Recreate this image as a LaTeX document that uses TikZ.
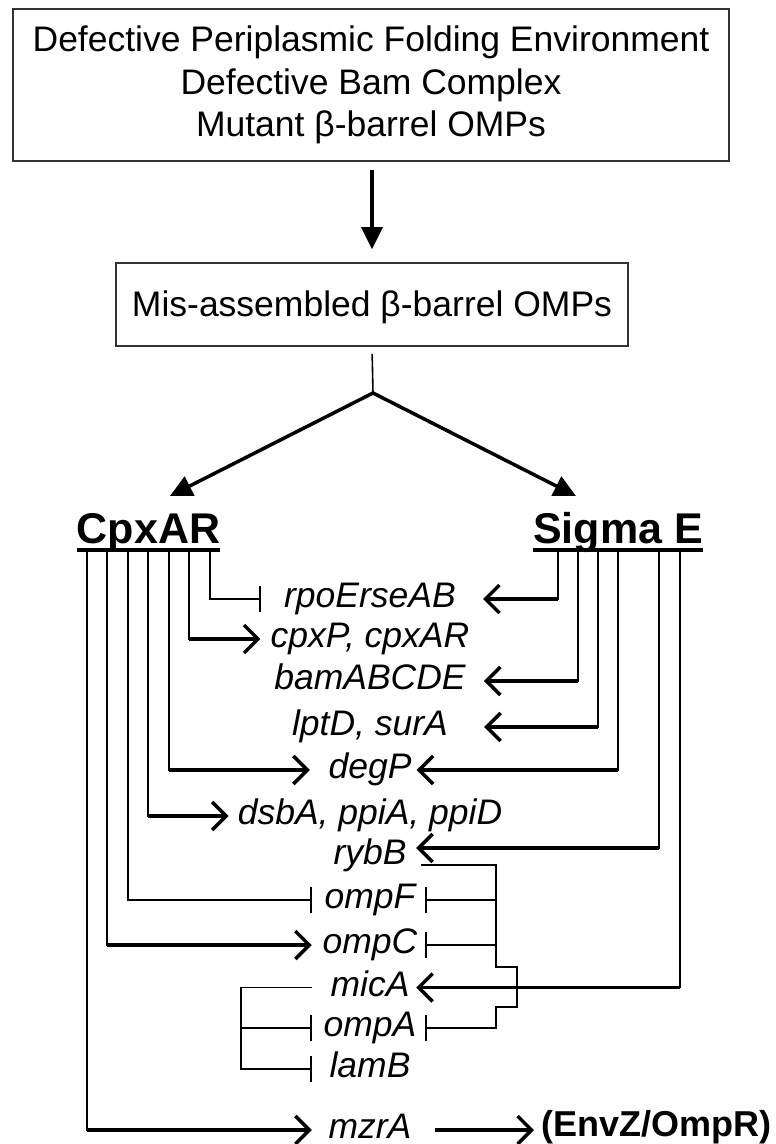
\documentclass[tikz,border=0pt]{standalone}
\usepackage{fontspec}
\setmainfont{Liberation Sans}
\usetikzlibrary{arrows.meta}
\begin{document}
\begin{tikzpicture}[x=1pt,y=-1pt,
  box/.style={draw=black!80, line width=1.6pt, inner sep=0pt, align=center, font=\fontsize{35.5}{42.5}\selectfont},
  hub/.style={font=\fontsize{43}{48}\selectfont\bfseries, inner sep=0pt, anchor=base},
  gene/.style={font=\fontsize{35.5}{40}\selectfont\itshape, inner sep=0pt, anchor=base, text height=25.5pt, text depth=8.5pt},
  stem/.style={line width=1.6pt, line cap=rect},
  act/.style={line width=3.5pt, -{Straight Barb[length=14pt,width=28pt]}},
  inh/.style={line width=1.6pt, -{Bar[width=26pt]}},
  big/.style={line width=3.5pt, -{Triangle[length=22pt,width=21pt]}},
  thinline/.style={line width=1.6pt}
]
\useasboundingbox (0,0) rectangle (776,1144);

% boxes
\node[box, minimum width=716pt, minimum height=152pt] (top) at (371,85)
  {Defective Periplasmic Folding Environment\\Defective Bam Complex\\Mutant β-barrel OMPs};
\node[box, minimum width=512pt, minimum height=83pt, text height=26pt, text depth=3pt] (mis) at (372,304.5)
  {Mis-assembled β-barrel OMPs};
\draw[big, shorten <=8pt, shorten >=13pt] (top.south -| mis.north) -- (mis.north);

% fork
\coordinate (fork) at (373,393);
\coordinate (tipL) at (170,496);
\coordinate (tipR) at (576,496);
\draw[thinline, shorten <=7pt] (mis.south) -- (fork);
\draw[big] (fork) -- (tipL);
\draw[big] (fork) -- (tipR);

% regulators
\node[hub] (cpx) at (148.5,543) {CpxAR};
\node[hub] (sig) at (618,543) {Sigma E};
\draw[line width=4pt] ([yshift=-7pt]cpx.base west) -- ([yshift=-7pt]cpx.base east);
\draw[line width=4pt] ([yshift=-7pt]sig.base west) -- ([yshift=-7pt]sig.base east);

% stems
\coordinate (c1) at (87,552);
\coordinate (c2) at (107,552);
\coordinate (c3) at (128,552);
\coordinate (c4) at (148,552);
\coordinate (c5) at (169,552);
\coordinate (c6) at (189,552);
\coordinate (c7) at (210,552);
\coordinate (s1) at (558,552);
\coordinate (s2) at (578,552);
\coordinate (s3) at (598,552);
\coordinate (s4) at (618,552);
\coordinate (s5) at (659,552);
\coordinate (s6) at (680,552);

% genes
\node[gene] (rpo) at (370,607.5) {rpoErseAB};
\node[gene] (cpxp) at (370,647.5) {cpxP, cpxAR};
\node[gene] (bam) at (370,689.5) {bamABCDE};
\node[gene] (lpt) at (370,735.5) {lptD, surA};
\node[gene] (deg) at (370,778.5) {degP};
\node[gene] (dsb) at (370,824.5) {dsbA, ppiA, ppiD};
\node[gene] (ryb) at (370,864) {rybB};
\node[gene] (ompf) at (370,908.5) {ompF};
\node[gene] (ompc) at (370,953.5) {ompC};
\node[gene] (mica) at (370,996) {micA};
\node[gene] (ompa) at (370,1036.5) {ompA};
\node[gene] (lamb) at (370,1077.5) {lamB};
\node[gene] (mzra) at (370,1138.5) {mzrA};
\node[font=\fontsize{36}{40}\selectfont\bfseries, inner sep=0pt, anchor=base west] (envz) at (541,1136) {(EnvZ/OmpR)};

% CpxAR connectors
\draw[inh] (c7) |- ([xshift=-23pt]rpo.west);
\draw[stem] (c6) -- (c6 |- cpxp.west);
\draw[act] (c6 |- cpxp.west) -- ([xshift=-10pt]cpxp.west);
\draw[stem] (c5) -- (c5 |- deg.west);
\draw[act] (c5 |- deg.west) -- ([xshift=-18.5pt]deg.west);
\draw[stem] (c4) -- (c4 |- dsb.west);
\draw[act] (c4 |- dsb.west) -- ([xshift=-9pt]dsb.west);
\draw[inh] (c3) |- ([xshift=-12.6pt]ompf.west);
\draw[stem] (c2) -- (c2 |- ompc.west);
\draw[act] (c2 |- ompc.west) -- ([xshift=-10.7pt]ompc.west);
\draw[stem] (c1) -- (c1 |- mzra.west);
\draw[act] (c1 |- mzra.west) -- ([xshift=-16.6pt]mzra.west);

% Sigma E connectors
\draw[stem] (s1) -- (s1 |- rpo.east);
\draw[act] (s1 |- rpo.east) -- ([xshift=27pt]rpo.east);
\draw[stem] (s2) -- (s2 |- bam.east);
\draw[act] (s2 |- bam.east) -- ([xshift=18pt]bam.east);
\draw[stem] (s3) -- (s3 |- lpt.east);
\draw[act] (s3 |- lpt.east) -- ([xshift=36pt]lpt.east);
\draw[stem] (s4) -- (s4 |- deg.east);
\draw[act] (s4 |- deg.east) -- ([xshift=5pt]deg.east);
\coordinate (rybIn) at ([xshift=9.5pt,yshift=7.5pt]ryb.east);
\draw[stem] (s5) -- (s5 |- rybIn);
\draw[act] (s5 |- rybIn) -- (rybIn);
\draw[stem] (s6) -- (s6 |- mica.east);
\draw[act] (s6 |- mica.east) -- ([xshift=6.6pt]mica.east);

% rybB repression
\coordinate (rybOut) at ([xshift=14.5pt,yshift=-9.5pt]ryb.east);
\coordinate (jogA) at (496,967);
\coordinate (jogB) at (517,1007);
\draw[inh, line join=miter] (rybOut) -- (rybOut -| jogA) -- (jogA) -- (jogA -| jogB) -- (jogB) -- (jogB -| jogA) |- ([xshift=8.6pt]ompa.east);
\draw[inh] (jogA |- ompf.east) -- ([xshift=9.6pt]ompf.east);
\draw[inh] (jogA |- ompc.east) -- ([xshift=7.7pt]ompc.east);

% micA repression
\coordinate (micOut) at ([xshift=-18.6pt]mica.west);
\coordinate (micBus) at (241,988);
\draw[inh] (micOut) -- (micOut -| micBus) |- ([xshift=-17.6pt]lamb.west);
\draw[inh] (micBus |- ompa.west) -- ([xshift=-11.6pt]ompa.west);

% mzrA -> EnvZ/OmpR
\draw[act] ([xshift=23.5pt]mzra.east) -- ([xshift=-7pt]mzra.east -| envz.west);
\end{tikzpicture}
\end{document}
